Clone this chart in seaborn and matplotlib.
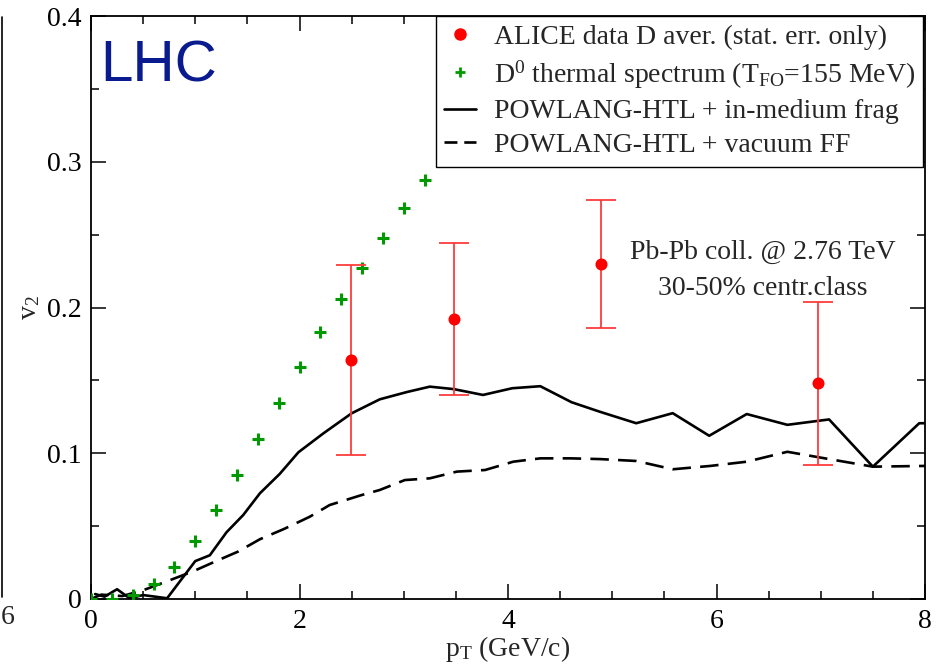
import numpy as np
import pandas as pd
import matplotlib
matplotlib.use("Agg")
import matplotlib.pyplot as plt
from matplotlib.lines import Line2D
import seaborn as sns

# ---------------- data ----------------
# ALICE D-meson average (stat. err. only)
alice_pt = [2.49, 3.48, 4.89, 6.97]
alice_v2 = [0.164, 0.192, 0.230, 0.148]
alice_err = [0.065, 0.052, 0.044, 0.056]

# D0 thermal spectrum (T_FO = 155 MeV)
therm_pt = [0.0, 0.2, 0.4, 0.6, 0.8, 1.0, 1.2, 1.4, 1.6, 1.8, 2.0, 2.2, 2.4, 2.6, 2.8, 3.0, 3.2]
therm_v2 = [0.0, 0.0, 0.003, 0.010, 0.022, 0.040, 0.061, 0.085, 0.110, 0.1345, 0.159,
            0.183, 0.206, 0.227, 0.248, 0.268, 0.2875]

# POWLANG-HTL + in-medium frag
med_pt = [0.04, 0.13, 0.25, 0.37, 0.50, 0.73, 1.00, 1.14, 1.30, 1.46, 1.62, 1.81, 1.99,
          2.23, 2.50, 2.77, 3.03, 3.25, 3.48, 3.76, 4.04, 4.31, 4.61, 4.88, 5.23, 5.58,
          5.93, 6.29, 6.68, 7.08, 7.50, 7.945, 8.0]
med_v2 = [0.0034, 0.0016, 0.0067, 0.0005, 0.0027, 0.0005, 0.026, 0.030, 0.0458, 0.0576,
          0.0725, 0.0858, 0.1007, 0.1137, 0.1274, 0.137, 0.142, 0.1457, 0.144, 0.140,
          0.1446, 0.146, 0.135, 0.1285, 0.1206, 0.1275, 0.112, 0.1269, 0.1195, 0.1232,
          0.0908, 0.1206, 0.1206]

# POWLANG-HTL + vacuum FF
vac_pt = [0.0, 0.1, 0.3, 0.5, 0.76, 0.98, 1.20, 1.41, 1.62, 1.85, 2.10, 2.29, 2.60, 2.77,
          3.01, 3.25, 3.51, 3.78, 4.05, 4.31, 4.60, 4.88, 5.23, 5.58, 5.94, 6.29, 6.68,
          7.08, 7.50, 8.0]
vac_v2 = [0.0, 0.003, 0.002, 0.006, 0.013, 0.019, 0.026, 0.0325, 0.041, 0.048, 0.0565,
          0.0645, 0.0714, 0.0748, 0.0816, 0.0828, 0.0874, 0.0885, 0.0942, 0.0965, 0.0965,
          0.096, 0.0947, 0.089, 0.0913, 0.0942, 0.101, 0.096, 0.0908, 0.0913]

x_ticks = [0, 2, 4, 6, 8]
x_ticklabels = ["0", "2", "4", "6", "8"]
y_ticks = [0, 0.1, 0.2, 0.3, 0.4]
y_ticklabels = ["0", "0.1", "0.2", "0.3", "0.4"]

labels = ["ALICE data D aver. (stat. err. only)",
          r"D$^{\rm 0}$ thermal spectrum (T$_{\rm FO}$=155 MeV)",
          "POWLANG-HTL + in-medium frag",
          "POWLANG-HTL + vacuum FF"]

# ---------------- style ----------------
sns.set_theme(style="ticks")
plt.rcParams['font.family'] = ['Liberation Serif', 'DejaVu Serif']
plt.rcParams['mathtext.fontset'] = 'custom'
plt.rcParams['mathtext.rm'] = 'Liberation Serif'
plt.rcParams['mathtext.it'] = 'Liberation Serif:italic'
plt.rcParams['mathtext.bf'] = 'Liberation Serif:bold'

FS = 20
RED = '#ff0000'
ERR = '#ff3b3b'
GREEN = '#009a00'

fig = plt.figure(figsize=(9.41, 6.64), dpi=100)
ax = fig.add_axes([91/941, 1-599/664, 834/941, 583/664])

# lines
sns.lineplot(x=med_pt, y=med_v2, ax=ax, color='black', lw=1.9, sort=False,
             estimator=None, zorder=3)
sns.lineplot(x=vac_pt, y=vac_v2, ax=ax, color='black', lw=1.9, sort=False,
             estimator=None, linestyle=(0, (7, 3.5)), zorder=3)

# thermal crosses
sns.scatterplot(x=therm_pt, y=therm_v2, ax=ax, marker='+', s=80, color=GREEN,
                linewidth=2.2, zorder=4)

# ALICE data
ax.errorbar(alice_pt, alice_v2, yerr=alice_err, fmt='none', ecolor=ERR,
            elinewidth=1.3, capsize=11, capthick=1.3, zorder=4)
sns.scatterplot(x=alice_pt, y=alice_v2, ax=ax, s=75, color=RED, edgecolor=RED,
                linewidth=0, zorder=5)

# axes
ax.set_xlim(0, 8)
ax.set_ylim(0, 0.4)
ax.set_xticks(x_ticks)
ax.set_xticklabels(x_ticklabels)
ax.set_yticks(y_ticks)
ax.set_yticklabels(y_ticklabels)
ax.set_xticks(np.arange(0, 8.01, 0.5), minor=True)
ax.set_yticks(np.arange(0, 0.401, 0.05), minor=True)
ax.tick_params(which='both', direction='in', top=True, right=True,
               labelsize=FS, color='black', labelcolor='black')
ax.tick_params(which='major', length=11, width=1.1, pad=7)
ax.tick_params(which='minor', length=5.5, width=1.1)
for s in ax.spines.values():
    s.set_linewidth(1.3)
    s.set_color('black')

ax.set_xlabel(r"p$_{\rm T}$ (GeV/c)", fontsize=FS, labelpad=0)
ax.set_ylabel(r"v$_{\rm 2}$", fontsize=FS, labelpad=3)

# annotations
ax.text(0.0116, 0.887, "LHC", transform=ax.transAxes, fontsize=42,
        family=['Liberation Sans', 'DejaVu Sans'], color='#0a1a8f', va='baseline', ha='left')
ax.text(0.806, 0.595, "Pb-Pb coll. @ 2.76 TeV", transform=ax.transAxes,
        fontsize=FS, ha='center', va='center')
ax.text(0.806, 0.533, "30-50% centr.class", transform=ax.transAxes,
        fontsize=FS, ha='center', va='center')

# legend
handles = [
    Line2D([], [], marker='o', color=RED, ls='none', markersize=8),
    Line2D([], [], marker='+', color=GREEN, ls='none', markersize=7, mew=2),
    Line2D([], [], color='black', lw=1.9),
    Line2D([], [], color='black', lw=1.9, ls=(0, (4.9, 2.6))),
]
leg = ax.legend(handles, labels, loc='upper right', bbox_to_anchor=(0.998, 1.0),
                borderaxespad=0, fontsize=FS, frameon=True, fancybox=False,
                handlelength=1.15, handletextpad=0.65, labelspacing=0.3,
                borderpad=0.3, framealpha=1)
leg.get_frame().set_edgecolor('black')
leg.get_frame().set_linewidth(1.0)
leg.set_zorder(10)

# remnant of neighbouring panel at the left edge
fig.add_artist(Line2D([1.5/941, 1.5/941], [1-597/664, 1-17/664],
                      transform=fig.transFigure, color='black', lw=1.2))
fig.text(0.5/941, 1-617/664, "6", fontsize=FS, ha='left', va='center')

fig.savefig("out.png", dpi=100)
